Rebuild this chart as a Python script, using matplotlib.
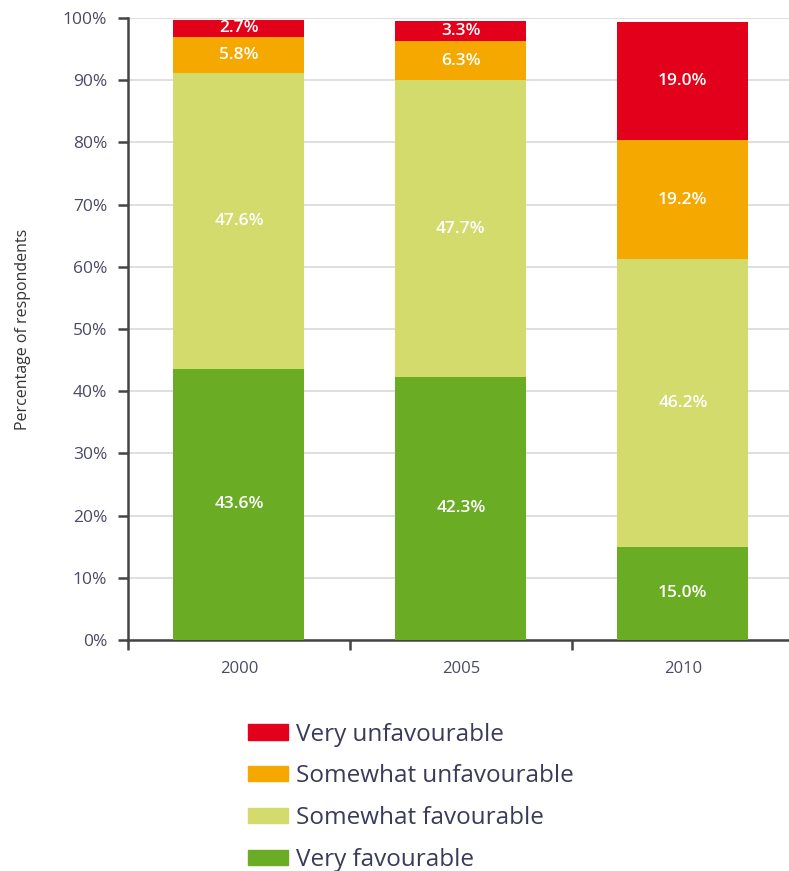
import numpy as np
import matplotlib
matplotlib.use("Agg")
import matplotlib.pyplot as plt
from matplotlib.patches import Patch

# Data
years = ['2000', '2005', '2010']
very_fav = [43.6, 42.3, 15.0]
somewhat_fav = [47.6, 47.7, 46.2]
somewhat_unfav = [5.8, 6.3, 19.2]
very_unfav = [2.7, 3.3, 19.0]

series = [
    ('Very favourable', very_fav, '#6aad24'),
    ('Somewhat favourable', somewhat_fav, '#d2db6c'),
    ('Somewhat unfavourable', somewhat_unfav, '#f5a800'),
    ('Very unfavourable', very_unfav, '#e2001a'),
]

plt.rcParams['font.family'] = ['Open Sans', 'DejaVu Sans']
tick_color = '#4a4a66'

fig = plt.figure(figsize=(7.89, 8.71), dpi=100)
ax = fig.add_axes([0.1622, 0.2652, 0.844, 0.7141])

x = np.arange(len(years))
bottom = np.zeros(len(years))
for name, vals, color in series:
    vals = np.array(vals)
    ax.bar(x, vals, width=0.59, bottom=bottom, color=color, zorder=3, label=name)
    for xi, b, v in zip(x, bottom, vals):
        ax.text(xi, b + v / 2, f"{v:.1f}%", ha='center', va='center',
                color='white', fontsize=12.5, fontweight='semibold', zorder=4)
    bottom += vals

ax.set_xlim(-0.5, 2.5)
ax.set_ylim(0, 100)
ax.set_yticks(np.arange(0, 101, 10))
ax.set_yticklabels([f"{v}%" for v in range(0, 101, 10)])
ax.yaxis.grid(True, color='#d9d9d9', linewidth=1.2, zorder=0)

ax.set_xticks(x)
ax.set_xticklabels(years)
ax.set_xticks([-0.5, 0.5, 1.5, 2.5], minor=True)
ax.tick_params(axis='x', which='major', length=0, pad=15, labelsize=12, labelcolor=tick_color)
ax.tick_params(axis='x', which='minor', length=7, width=1.8, color='#444444', direction='out')
ax.tick_params(axis='y', length=7, width=1.8, color='#444444', labelsize=12.5,
               labelcolor=tick_color, pad=8)

for s in ['top', 'right']:
    ax.spines[s].set_visible(False)
for s in ['left', 'bottom']:
    ax.spines[s].set_color('#444444')
    ax.spines[s].set_linewidth(1.8)

ax.set_ylabel('Percentage of respondents', fontsize=11.5, color='#333333', labelpad=23)

handles = [Patch(color=c, label=n) for n, _, c in series][::-1]
fig.legend(handles=handles, loc='upper left', bbox_to_anchor=(0.2866, 0.1955),
           frameon=False, fontsize=17.5, handlelength=1.65, handleheight=0.58,
           labelspacing=0.735, handletextpad=0.33, labelcolor='#3a3a5a')

fig.savefig('out.png', dpi=100)
